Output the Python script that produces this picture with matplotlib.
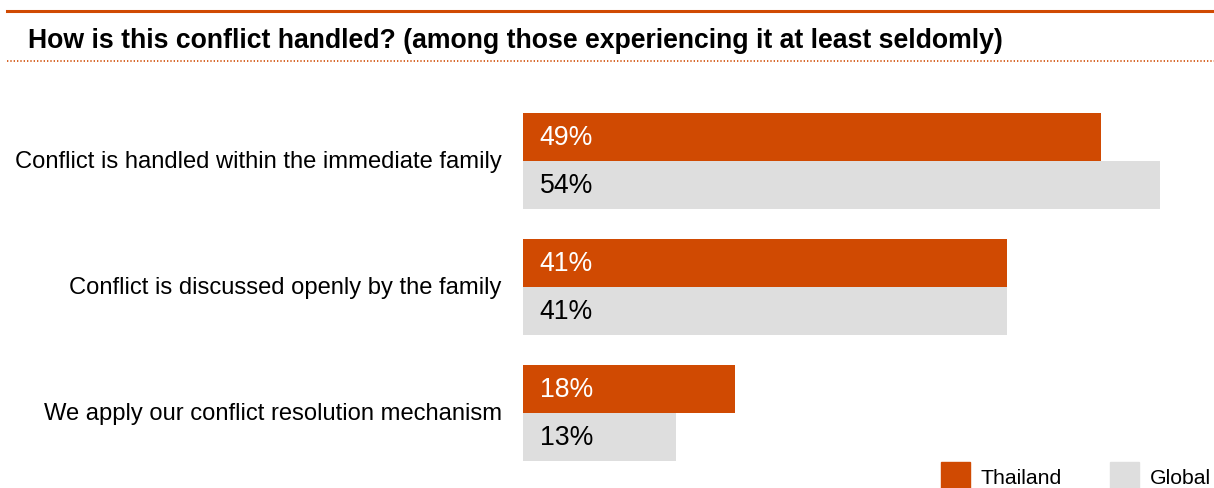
"""Horizontal grouped bars: how family conflict is handled, Thailand vs Global."""

import matplotlib

matplotlib.use("Agg")
import matplotlib.pyplot as plt
from matplotlib.lines import Line2D
from matplotlib.patches import Rectangle

plt.rcParams["font.family"] = ["Liberation Sans", "DejaVu Sans"]

categories = [
    "Conflict is handled within the immediate family",
    "Conflict is discussed openly by the family",
    "We apply our conflict resolution mechanism",
]
thailand = [49, 41, 18]
global_ = [54, 41, 13]
series_names = ["Thailand", "Global"]

ORANGE = "#D04A02"
GREY = "#DEDEDE"

W, H = 1214, 488
fig = plt.figure(figsize=(W / 100, H / 100), dpi=100)

# header: solid rule, bold title, dotted rule
fig.add_artist(Line2D([7 / W, 1], [1 - 11 / H] * 2, color=ORANGE, lw=2.2))
fig.text(28 / W, 1 - 41 / H, "How is this conflict handled? (among those experiencing it at least seldomly)",
         fontsize=19.2, fontweight="bold", va="center", ha="left")
fig.add_artist(Line2D([7 / W, 1], [1 - 61 / H] * 2, color=ORANGE, lw=1.2,
                      linestyle=(0, (0.8, 1.2))))

# plot area in pixel-like y units so groups sit where they should
ax = fig.add_axes([523 / W, 0, 1 - 523 / W, 1])
ax.set_xlim(0, (W - 523) / 11.8)
ax.set_ylim(H, 0)
ax.axis("off")

bar_h = 48
for i, (cat, t, g) in enumerate(zip(categories, thailand, global_)):
    top = 113 + 126 * i
    ax.barh(top + bar_h / 2, t, height=bar_h, left=0, color=ORANGE)
    ax.barh(top + bar_h * 1.5, g, height=bar_h, left=0, color=GREY)
    ax.text(1.4, top + bar_h / 2 + 1, f"{t}%", color="white", fontsize=19.2, va="center", ha="left")
    ax.text(1.4, top + bar_h * 1.5 + 1, f"{g}%", color="black", fontsize=19.2, va="center", ha="left")
    ax.text(-1.8, top + bar_h + 1, cat, fontsize=17.15, va="center", ha="right")

# legend boxes along the bottom edge
for x0, name, col in [(941, series_names[0], ORANGE), (1110, series_names[1], GREY)]:
    fig.add_artist(Rectangle((x0 / W, 0), 29 / W, 26 / H, color=col, transform=fig.transFigure))
    fig.text((x0 + 40) / W, 1 - 479 / H, name, fontsize=15.3, va="center", ha="left")

fig.savefig("out.png", dpi=100)
